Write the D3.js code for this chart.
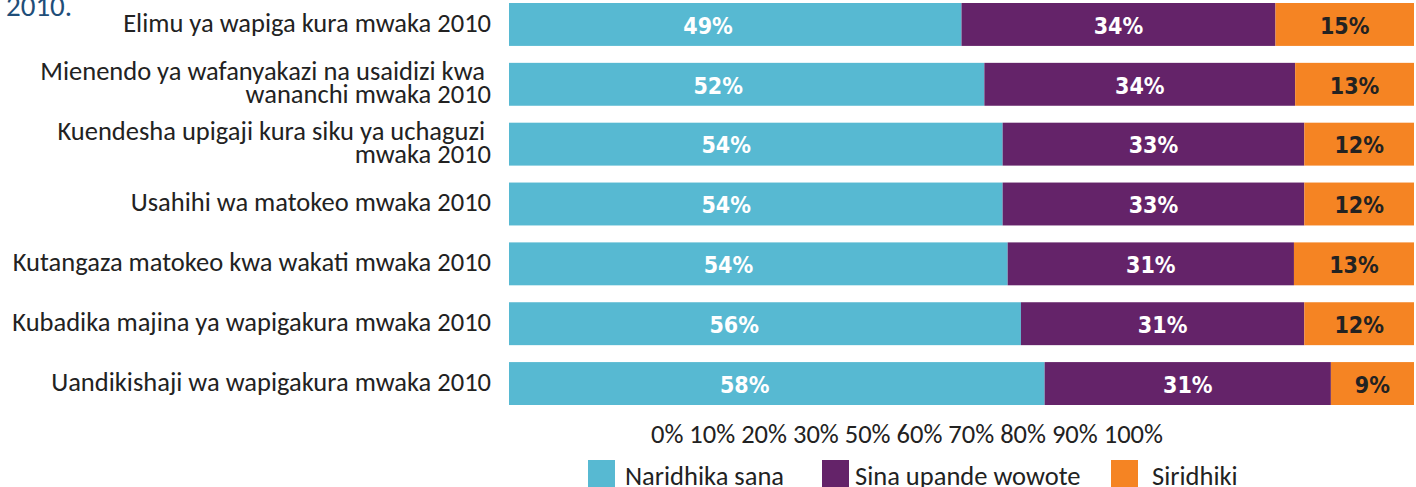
<!DOCTYPE html>
<html>
<head>
<meta charset="utf-8">
<script src="https://cdn.jsdelivr.net/npm/d3@7"></script>
<style>
  body { margin: 0; background: #fff; }
  text { white-space: pre; }
</style>
</head>
<body>
<div id="chart"></div>
<script>
var categories = [
  ["Elimu ya wapiga kura mwaka 2010"],
  ["Mienendo ya wafanyakazi na usaidizi kwa ", "wananchi mwaka 2010"],
  ["Kuendesha upigaji kura siku ya uchaguzi ", "mwaka 2010"],
  ["Usahihi wa matokeo mwaka 2010"],
  ["Kutangaza matokeo kwa wakati mwaka 2010"],
  ["Kubadika majina ya wapigakura mwaka 2010"],
  ["Uandikishaji wa wapigakura mwaka 2010"]
];
var naridhika = [49, 52, 54, 54, 54, 56, 58],
    sinaUpande = [34, 34, 33, 33, 31, 31, 31],
    siridhiki = [15, 13, 12, 12, 13, 12, 9];
var seriesNames = ["Naridhika sana", "Sina upande wowote", "Siridhiki"];
var tickLabels = ["0%", "10%", "20%", "30%", "50%", "60%", "70%", "80%", "90%", "100%"];

var width = 1416,
    height = 487,
    colors = ["#57b9d2", "#642369", "#f58423"],
    labelColors = ["#fff", "#fff", "#222"],
    labelFont = "Calibri, Carlito, 'Open Sans', sans-serif",
    valueFont = "'Liberation Sans Narrow', 'DejaVu Sans Condensed', sans-serif";

var rows = categories.map(function(c, i) {
  return {idx: i, a: naridhika[i], b: sinaUpande[i], c: siridhiki[i]};
});
var keys = ["a", "b", "c"];
var stacked = d3.stack().keys(keys).offset(d3.stackOffsetExpand)(rows);

var xScale = d3.scaleLinear().domain([0, 1]).range([509, 1414]),
    yScale = d3.scaleBand()
      .domain(rows.map(function(d) { return d.idx; }))
      .range([3, 405])
      .paddingInner(0.283)
      .paddingOuter(0);

var svg = d3.select("#chart").append("svg")
    .attr("width", width)
    .attr("height", height);

// leftover heading text from the page above
svg.append("text")
    .attr("x", 6)
    .attr("y", 16)
    .style("font-family", labelFont)
    .style("font-size", "29px")
    .style("fill", "#1f4e79")
    .text("2010.");

var layers = svg.selectAll(".layer")
    .data(stacked).enter()
  .append("g")
    .attr("class", "layer")
    .attr("fill", function(d, i) { return colors[i]; });

layers.selectAll("rect")
    .data(function(d) { return d; }).enter()
  .append("rect")
    .attr("x", function(d) { return xScale(d[0]); })
    .attr("y", function(d) { return yScale(d.data.idx); })
    .attr("width", function(d) { return xScale(d[1]) - xScale(d[0]); })
    .attr("height", yScale.bandwidth());

layers.each(function(layer, li) {
  d3.select(this).selectAll("text")
      .data(layer).enter()
    .append("text")
      .attr("x", function(d) {
        var f = li === 0 ? 0.44 : 0.5;
        return xScale(d[0]) + f * (xScale(d[1]) - xScale(d[0]));
      })
      .attr("y", function(d) { return yScale(d.data.idx) + yScale.bandwidth() / 2; })
      .attr("dy", "0.4em")
      .attr("text-anchor", "middle")
      .style("font-family", valueFont)
      .style("font-weight", "bold")
      .style("font-size", "23px")
      .style("fill", labelColors[li])
      .text(function(d) { return d.data[keys[li]] + "%"; });
});

// category labels
svg.append("g")
  .selectAll("text")
    .data(rows).enter()
  .append("text")
    .attr("text-anchor", "end")
    .attr("y", function(d) { return yScale(d.idx) + yScale.bandwidth() / 2; })
    .style("font-family", labelFont)
    .style("font-size", "26.5px")
    .style("fill", "#222")
    .each(function(d) {
      var lines = categories[d.idx],
          t = d3.select(this);
      lines.forEach(function(line, k) {
        t.append("tspan")
          .attr("x", 491)
          .attr("dy", k === 0 ? ((lines.length - 1) * -0.5 * 0.85 + 0.28) + "em" : "0.85em")
          .text(line);
      });
    });

// x axis labels, squeezed together as in the original
svg.append("text")
    .attr("x", 651)
    .attr("y", 443)
    .style("font-family", labelFont)
    .style("font-size", "26.5px")
    .style("fill", "#222")
    .text(tickLabels.join(" "));

// legend
var legendX = [588, 822, 1111],
    legendTextX = [625, 855, 1152];
var legend = svg.append("g")
  .selectAll("g")
    .data(seriesNames).enter()
  .append("g");

legend.append("rect")
    .attr("x", function(d, i) { return legendX[i]; })
    .attr("y", 460)
    .attr("width", 27)
    .attr("height", 27)
    .attr("fill", function(d, i) { return colors[i]; });

legend.append("text")
    .attr("x", function(d, i) { return legendTextX[i]; })
    .attr("y", 485)
    .style("font-family", labelFont)
    .style("font-size", "26.5px")
    .style("fill", "#222")
    .text(function(d) { return d; });
</script>
</body>
</html>
